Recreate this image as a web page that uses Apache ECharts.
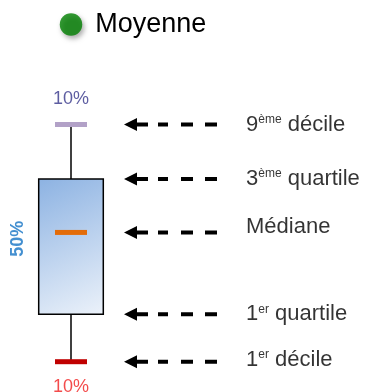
<!DOCTYPE html>
<html>
<head>
<meta charset="utf-8">
<script src="https://cdn.jsdelivr.net/npm/echarts@6/dist/echarts.min.js"></script>
<style>
html, body { margin: 0; padding: 0; background: #fff; }
#chart { width: 372px; height: 392px; }
</style>
</head>
<body>
<div id="chart"></div>
<script>
const statLabels = ['9ème décile', '3ème quartile', 'Médiane', '1er quartile', '1er décile'];
const statValues = [100, 77, 54.5, 20, 0];
const legendNames = ['Moyenne'];
const shareLabels = ['10%', '50%', '10%'];

// mise en page (pixels)
const BOX_X = 71, SIDE_X = 18, ARROW_FROM = 217, ARROW_TIP = 124, TEXT_X = 246;
const labelShift = [0, 0, -5, 0, -2];
const FONT = '"Liberation Sans", Arial, sans-serif';

const [d9, q3, med, q1, d1] = statValues;

function toRich(s) {
    return s.replace(/^(\d)(ème|er)/, '$1{s|$2}');
}

function renderBox(params, api) {
    const x = api.value(0);
    const pD1 = api.coord([x, api.value(1)]);
    const pQ1 = api.coord([x, api.value(2)]);
    const pMed = api.coord([x, api.value(3)]);
    const pQ3 = api.coord([x, api.value(4)]);
    const pD9 = api.coord([x, api.value(5)]);
    const boxW = 64.6, barW = 32, barH = 5;
    const bar = (p, color) => ({
        type: 'rect',
        shape: { x: p[0] - barW / 2, y: p[1] - barH / 2, width: barW, height: barH },
        style: { fill: color }
    });
    return {
        type: 'group',
        children: [
            { type: 'line', shape: { x1: pD9[0], y1: pD9[1], x2: pQ3[0], y2: pQ3[1] }, style: { stroke: '#000', lineWidth: 1.5 } },
            { type: 'line', shape: { x1: pQ1[0], y1: pQ1[1], x2: pD1[0], y2: pD1[1] }, style: { stroke: '#000', lineWidth: 1.5 } },
            {
                type: 'rect',
                shape: { x: pQ3[0] - boxW / 2, y: pQ3[1], width: boxW, height: pQ1[1] - pQ3[1] },
                style: {
                    fill: {
                        type: 'linear', x: 0, y: 0, x2: 1, y2: 1,
                        colorStops: [{ offset: 0, color: '#8cb2e2' }, { offset: 1, color: '#ecf2fa' }]
                    },
                    stroke: '#000', lineWidth: 1.5
                }
            },
            bar(pMed, '#e36c09'),
            bar(pD9, '#b2a1c7'),
            bar(pD1, '#c00000')
        ]
    };
}

// flèche pointillée : du texte vers la boîte
function renderArrow(params, api) {
    const from = api.coord([api.value(0), api.value(2)]);
    const tip = api.coord([api.value(1), api.value(2)]);
    const headL = 13, headW = 13;
    return {
        type: 'group',
        children: [
            {
                type: 'line',
                shape: { x1: from[0], y1: from[1], x2: tip[0] + headL - 1, y2: tip[1] },
                style: { stroke: '#000', lineWidth: 4, lineDash: [12, 12, 12, 13, 10, 10, 40, 0] }
            },
            {
                type: 'polygon',
                shape: { points: [[tip[0], tip[1]], [tip[0] + headL, tip[1] - headW / 2], [tip[0] + headL, tip[1] + headW / 2]] },
                style: { fill: '#000' }
            }
        ]
    };
}

let chart = echarts.init(document.getElementById('chart'));
let option = {
    animation: false,
    legend: {
        data: legendNames,
        left: 59.75, top: 11, padding: 0,
        icon: 'circle', itemWidth: 22.5, itemHeight: 22.5,
        itemStyle: { shadowBlur: 5, shadowColor: 'rgba(0,0,0,0.4)', shadowOffsetX: 2, shadowOffsetY: 3 },
        textStyle: { fontFamily: FONT, fontSize: 27, color: '#000', padding: [0, 0, 0, 8] }
    },
    grid: { left: 0, right: 0, top: 124.5, bottom: 30.3 },
    xAxis: { type: 'value', min: 0, max: 372, show: false },
    yAxis: { type: 'value', min: 0, max: 100, show: false },
    series: [
        { type: 'scatter', name: 'Moyenne', data: [], itemStyle: { color: '#007f00' } },
        {
            type: 'custom',
            renderItem: renderBox,
            silent: true,
            encode: { x: 0, y: [1, 2, 3, 4, 5] },
            data: [[BOX_X, d1, q1, med, q3, d9]]
        },
        {
            type: 'custom',
            renderItem: renderArrow,
            silent: true,
            encode: { x: [0, 1], y: 2 },
            data: statValues.map(v => [ARROW_FROM, ARROW_TIP, v])
        },
        {
            type: 'scatter',
            symbolSize: 0,
            silent: true,
            label: {
                show: true, position: 'right', distance: 0,
                fontFamily: FONT, fontSize: 22, color: '#000',
                rich: { s: { fontFamily: FONT, fontSize: 12, color: '#000', verticalAlign: 'top', lineHeight: 13 } }
            },
            data: statValues.map((v, i) => ({
                value: [TEXT_X, v],
                label: { formatter: toRich(statLabels[i]), offset: [0, labelShift[i]] }
            }))
        },
        {
            type: 'scatter',
            symbolSize: 0,
            silent: true,
            label: { show: true, position: 'inside', fontFamily: FONT, fontSize: 18 },
            data: [
                { value: [BOX_X, d9], label: { formatter: shareLabels[0], offset: [0, -25], color: '#34348a' } },
                { value: [SIDE_X, (q1 + q3) / 2 + 3.3], label: { formatter: shareLabels[1], rotate: 90, color: '#1473c4', fontWeight: 'bold' } },
                { value: [BOX_X, d1], label: { formatter: shareLabels[2], offset: [0, 25.5], color: '#f01e1e' } }
            ]
        }
    ]
};
chart.setOption(option);
</script>
</body>
</html>
